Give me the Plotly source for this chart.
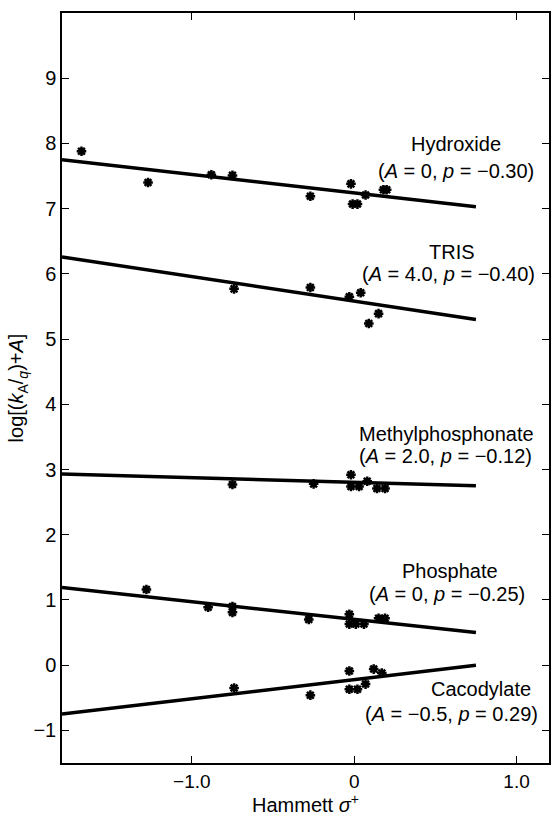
import plotly.graph_objects as go

# ---- data ----
hyd_x = [-1.68, -1.27, -0.88, -0.75, -0.27, -0.02, -0.01, 0.02, 0.07, 0.18, 0.20]
hyd_y = [7.88, 7.40, 7.52, 7.51, 7.19, 7.38, 7.07, 7.07, 7.21, 7.29, 7.29]

tris_x = [-0.74, -0.27, -0.03, 0.04, 0.09, 0.15]
tris_y = [5.77, 5.79, 5.65, 5.71, 5.24, 5.39]

mp_x = [-0.75, -0.25, -0.02, -0.02, 0.03, 0.08, 0.14, 0.19]
mp_y = [2.77, 2.78, 2.92, 2.74, 2.74, 2.82, 2.71, 2.71]

phos_x = [-1.28, -0.90, -0.75, -0.75, -0.28, -0.03, -0.03, 0.01, 0.06, 0.15, 0.19]
phos_y = [1.16, 0.89, 0.90, 0.81, 0.70, 0.78, 0.63, 0.63, 0.63, 0.72, 0.72]

caco_x = [-0.74, -0.27, -0.03, -0.03, 0.02, 0.07, 0.12, 0.17]
caco_y = [-0.35, -0.46, -0.09, -0.37, -0.37, -0.29, -0.06, -0.12]

# fitted line endpoints
line_x = [-1.8, 0.75]
hyd_line = [7.75, 7.03]
tris_line = [6.26, 5.30]
mp_line = [2.93, 2.75]
phos_line = [1.19, 0.50]
caco_line = [-0.75, 0.00]

x_ticks = [-1.0, 0.0, 1.0]
x_ticktext = ["\u22121.0", "0", "1.0"]
y_ticks = [-1, 0, 1, 2, 3, 4, 5, 6, 7, 8, 9]
y_ticktext = ["\u22121", "0", "1", "2", "3", "4", "5", "6", "7", "8", "9"]

labels = [
    ("Hydroxide", "(<i>A</i> = 0, <i>p</i> = \u22120.30)"),
    ("TRIS", "(<i>A</i> = 4.0, <i>p</i> = \u22120.40)"),
    ("Methylphosphonate", "(<i>A</i> = 2.0, <i>p</i> = \u22120.12)"),
    ("Phosphate", "(<i>A</i> = 0, <i>p</i> = \u22120.25)"),
    ("Cacodylate", "(<i>A</i> = \u22120.5, <i>p</i> = 0.29)"),
]
# label anchor positions (data coords): (name_x, name_y, param_x, param_y)
label_pos = [
    (0.63, 7.99, 0.63, 7.58),
    (0.60, 6.34, 0.58, 6.00),
    (0.57, 3.55, 0.565, 3.20),
    (0.59, 1.44, 0.57, 1.09),
    (0.78, -0.37, 0.60, -0.75),
]

FONT = "Liberation Sans, Arial, sans-serif"
FS = 20

fig = go.Figure()
for ly in [hyd_line, tris_line, mp_line, phos_line, caco_line]:
    fig.add_trace(go.Scatter(x=line_x, y=ly, mode="lines",
                             line=dict(color="black", width=3.5), showlegend=False,
                             hoverinfo="skip"))
for xs, ys in [(hyd_x, hyd_y), (tris_x, tris_y), (mp_x, mp_y), (phos_x, phos_y), (caco_x, caco_y)]:
    fig.add_trace(go.Scatter(x=xs, y=ys, mode="markers",
                             marker=dict(symbol="asterisk-open", size=8, color="black",
                                         line=dict(color="black", width=2.5)),
                             showlegend=False))
    fig.add_trace(go.Scatter(x=xs, y=ys, mode="markers",
                             marker=dict(symbol="circle", size=5, color="black"),
                             showlegend=False, hoverinfo="skip"))

for (name, params), (nx, ny, px, py) in zip(labels, label_pos):
    fig.add_annotation(x=nx, y=ny, text=name, showarrow=False, xanchor="center",
                       yanchor="middle", font=dict(size=FS, color="black", family=FONT))
    fig.add_annotation(x=px, y=py, text=params, showarrow=False, xanchor="center",
                       yanchor="middle", font=dict(size=FS, color="black", family=FONT))

# x-axis title placed as a paper-anchored annotation just below tick labels
fig.add_annotation(x=0.5, y=-0.0535, xref="paper", yref="paper",
                   text="Hammett <i>\u03c3</i><sup>+</sup>", showarrow=False,
                   xanchor="center", yanchor="middle",
                   font=dict(size=FS, color="black", family=FONT))

axis_common = dict(showline=True, linecolor="black", linewidth=1.5, mirror="ticks",
                   ticks="inside", ticklen=7, tickwidth=1.2, tickcolor="black",
                   showgrid=False, zeroline=False, automargin=False)

fig.update_xaxes(range=[-1.8, 1.2], tickvals=x_ticks, ticktext=x_ticktext,
                 tickfont=dict(size=19, color="black", family=FONT),
                 **axis_common)
fig.update_yaxes(range=[-1.5, 10], tickvals=y_ticks, ticktext=y_ticktext,
                 tickfont=dict(size=FS, color="black", family=FONT),
                 title=dict(text="log[(<i>k</i><sub>A</sub>/<sub><i>q</i></sub>)+<i>A</i>]", standoff=4,
                            font=dict(size=FS, color="black", family=FONT)),
                 **axis_common)

fig.update_layout(width=551, height=813, plot_bgcolor="white", paper_bgcolor="white",
                  margin=dict(l=62, r=2, t=13, b=50), showlegend=False)

fig.write_html("out.html")
